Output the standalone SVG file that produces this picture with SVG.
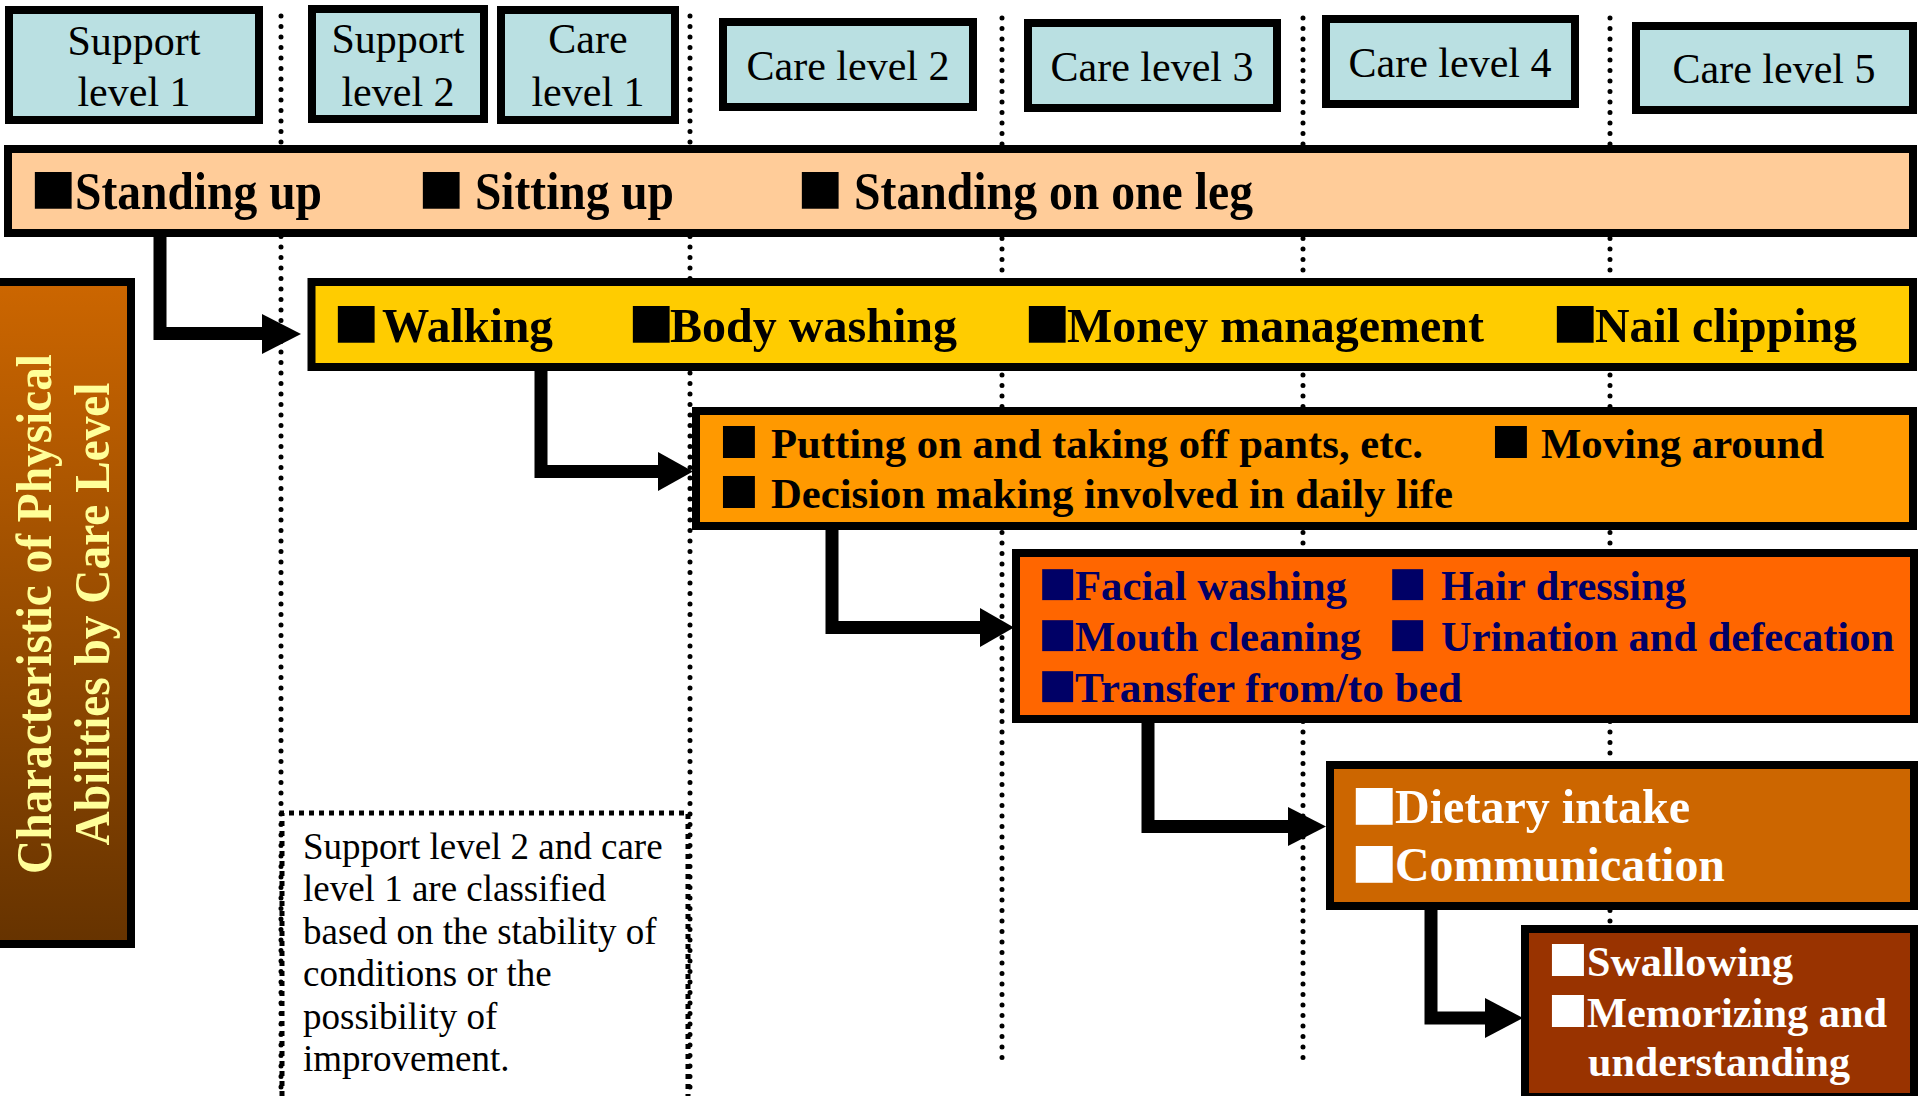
<svg xmlns="http://www.w3.org/2000/svg" width="1919" height="1096" viewBox="0 0 1919 1096">
  <defs>
    <linearGradient id="titleFill" x1="0" y1="0" x2="0" y2="1">
      <stop offset="0" stop-color="#CC6600"/>
      <stop offset="1" stop-color="#663300"/>
    </linearGradient>
    <style>
      .box { stroke: #000; stroke-width: 8; }
      .lvl { fill: #BAE0E2; }
      .lbl { font-family: "Liberation Serif", "Times New Roman", serif; font-size: 42px; text-anchor: middle; fill: #000; }
      .b { font-family: "Liberation Serif", "Times New Roman", serif; font-weight: bold; }
      .sq { letter-spacing: -10px; }
      .guide { stroke: #000; stroke-width: 5; stroke-linecap: round; stroke-dasharray: 0 10.5; fill: none; }
      .noteEdge { stroke: #000; stroke-width: 5; stroke-dasharray: 5 5; fill: none; }
      .wire { stroke: #000; stroke-width: 13; fill: none; stroke-linejoin: miter; }
      .note { font-family: "Liberation Serif", "Times New Roman", serif; font-size: 37px; fill: #000; }
    </style>
  </defs>

  <!-- level headers -->
  <g id="support-level-1">
    <rect class="box lvl" x="9" y="10" width="250" height="110"/>
    <text class="lbl" x="134" y="55">Support</text>
    <text class="lbl" x="134" y="106">level 1</text>
  </g>
  <g id="support-level-2">
    <rect class="box lvl" x="312" y="9" width="172" height="110"/>
    <text class="lbl" x="398" y="53">Support</text>
    <text class="lbl" x="398" y="106">level 2</text>
  </g>
  <g id="care-level-1">
    <rect class="box lvl" x="501" y="10" width="174" height="110"/>
    <text class="lbl" x="588" y="53">Care</text>
    <text class="lbl" x="588" y="106">level 1</text>
  </g>
  <g id="care-level-2">
    <rect class="box lvl" x="723" y="22" width="250" height="85"/>
    <text class="lbl" x="848" y="80" font-size="43">Care level 2</text>
  </g>
  <g id="care-level-3">
    <rect class="box lvl" x="1028" y="23" width="249" height="85"/>
    <text class="lbl" x="1152" y="81" font-size="43">Care level 3</text>
  </g>
  <g id="care-level-4">
    <rect class="box lvl" x="1326" y="19" width="249" height="85"/>
    <text class="lbl" x="1450" y="77" font-size="43">Care level 4</text>
  </g>
  <g id="care-level-5">
    <rect class="box lvl" x="1636" y="26" width="277" height="84"/>
    <text class="lbl" x="1774" y="83" font-size="43">Care level 5</text>
  </g>

  <!-- connectors between the ability bands -->
  <g id="connectors">
    <path class="wire" d="M160,237 V333.5 H263"/>
    <polygon points="262,314 301,334 262,354"/>
    <path class="wire" d="M541,371 V471.5 H659"/>
    <polygon points="658,452 693,471.5 658,491"/>
    <path class="wire" d="M832,530 V627.5 H981"/>
    <polygon points="980,608 1014,627.5 980,647"/>
    <path class="wire" d="M1148,723 V826.5 H1289"/>
    <polygon points="1288,807 1326,826.5 1288,846"/>
    <path class="wire" d="M1431,910 V1018 H1486"/>
    <polygon points="1485,998 1523,1018 1485,1038"/>
  </g>

  <!-- dotted column guides -->
  <g id="guides">
    <line class="guide" x1="281" y1="16" x2="281" y2="1096"/>
    <line class="guide" x1="690" y1="16" x2="690" y2="1096"/>
    <line class="guide" x1="1002" y1="18" x2="1002" y2="1058"/>
    <line class="guide" x1="1303" y1="18" x2="1303" y2="1058"/>
    <line class="guide" x1="1610" y1="18" x2="1610" y2="1058"/>
  </g>

  <!-- title band -->
  <g id="title">
    <rect class="box" x="-10" y="282" width="141" height="662" fill="url(#titleFill)"/>
    <text class="b" font-size="50" fill="#FFFF99" text-anchor="middle" transform="translate(51,614) rotate(-90)" textLength="520" lengthAdjust="spacingAndGlyphs">Characteristic of Physical</text>
    <text class="b" font-size="50" fill="#FFFF99" text-anchor="middle" transform="translate(109,614) rotate(-90)" textLength="463" lengthAdjust="spacingAndGlyphs">Abilities by Care Level</text>
  </g>

  <g id="band-1">
    <rect class="box" x="8" y="149" width="1905" height="84" fill="#FFCC99"/>
    <text class="b" font-size="52"><tspan class="sq" x="30.4" y="212.8" font-size="76">■</tspan><tspan x="75" y="209" textLength="247" lengthAdjust="spacingAndGlyphs">Standing up</tspan></text>
    <text class="b" font-size="52"><tspan class="sq" x="418.4" y="212.8" font-size="76">■ </tspan><tspan x="475" y="209" textLength="199" lengthAdjust="spacingAndGlyphs">Sitting up</tspan></text>
    <text class="b" font-size="52"><tspan class="sq" x="797.4" y="212.8" font-size="76">■ </tspan><tspan x="854" y="209" textLength="399" lengthAdjust="spacingAndGlyphs">Standing on one leg</tspan></text>
  </g>

  <g id="band-2">
    <rect class="box" x="311.5" y="282" width="1601.5" height="85" fill="#FFCC00"/>
    <text class="b" font-size="49"><tspan class="sq" x="333.4" y="346.8" font-size="76">■</tspan><tspan x="382" y="342" textLength="171" lengthAdjust="spacingAndGlyphs">Walking</tspan></text>
    <text class="b" font-size="49"><tspan class="sq" x="628.4" y="346.8" font-size="76">■</tspan><tspan x="670" y="342" textLength="287" lengthAdjust="spacingAndGlyphs">Body washing</tspan></text>
    <text class="b" font-size="49"><tspan class="sq" x="1024.4" y="346.8" font-size="76">■</tspan><tspan x="1067" y="342" textLength="417" lengthAdjust="spacingAndGlyphs">Money management</tspan></text>
    <text class="b" font-size="49"><tspan class="sq" x="1552.4" y="346.8" font-size="76">■</tspan><tspan x="1595" y="342" textLength="262" lengthAdjust="spacingAndGlyphs">Nail clipping</tspan></text>
  </g>

  <g id="band-3">
    <rect class="box" x="696" y="411" width="1217" height="115" fill="#FF9900"/>
    <text class="b" font-size="43"><tspan class="sq" x="719" y="462.3" font-size="66">■ </tspan><tspan x="771" y="458" textLength="652" lengthAdjust="spacingAndGlyphs">Putting on and taking off pants, etc.</tspan><tspan class="sq" x="1491" y="462.3" font-size="66">■ </tspan><tspan x="1541" y="458" textLength="283" lengthAdjust="spacingAndGlyphs">Moving around</tspan><tspan class="sq" x="719" y="512.3" font-size="66">■ </tspan><tspan x="771" y="508" textLength="682" lengthAdjust="spacingAndGlyphs">Decision making involved in daily life</tspan></text>
  </g>

  <g id="band-4" fill="#000066">
    <rect class="box" x="1016" y="553" width="898" height="166" fill="#FF6600"/>
    <text class="b" font-size="42"><tspan class="sq" x="1038.2" y="603.7" font-size="64">■</tspan><tspan x="1075" y="600" textLength="272" lengthAdjust="spacingAndGlyphs">Facial washing</tspan><tspan class="sq" x="1388.2" y="603.7" font-size="64">■ </tspan><tspan x="1441" y="600" textLength="245" lengthAdjust="spacingAndGlyphs">Hair dressing</tspan><tspan class="sq" x="1038.2" y="654.7" font-size="64">■</tspan><tspan x="1075" y="651" textLength="286" lengthAdjust="spacingAndGlyphs">Mouth cleaning</tspan><tspan class="sq" x="1388.2" y="654.7" font-size="64">■ </tspan><tspan x="1441" y="651" textLength="453" lengthAdjust="spacingAndGlyphs">Urination and defecation</tspan><tspan class="sq" x="1038.2" y="705.7" font-size="64">■</tspan><tspan x="1075" y="702" textLength="387" lengthAdjust="spacingAndGlyphs">Transfer from/to bed</tspan></text>
  </g>

  <g id="band-5" fill="#FFFFFF">
    <rect class="box" x="1330" y="765" width="584" height="141" fill="#CC6600"/>
    <text class="b" font-size="48"><tspan class="sq" x="1351.4" y="828.8" font-size="76">■</tspan><tspan x="1395" y="823" textLength="295" lengthAdjust="spacingAndGlyphs">Dietary intake</tspan><tspan class="sq" x="1351.4" y="886.8" font-size="76">■</tspan><tspan x="1395" y="881" textLength="330" lengthAdjust="spacingAndGlyphs">Communication</tspan></text>
  </g>

  <g id="band-6" fill="#FFFFFF">
    <rect class="box" x="1525" y="929" width="389" height="168" fill="#993300"/>
    <text class="b" font-size="42"><tspan class="sq" x="1548" y="980.3" font-size="66">■</tspan><tspan x="1587" y="976" textLength="206" lengthAdjust="spacingAndGlyphs">Swallowing</tspan><tspan class="sq" x="1548" y="1031.3" font-size="66">■</tspan><tspan x="1587" y="1027" textLength="300" lengthAdjust="spacingAndGlyphs">Memorizing and</tspan><tspan x="1588" y="1076" textLength="262" lengthAdjust="spacingAndGlyphs">understanding</tspan></text>
  </g>

  <g id="note">
    <path class="noteEdge" d="M282,1096 V813 H688 V1096"/>
    <text class="note" x="303" y="859">Support level 2 and care</text>
    <text class="note" x="303" y="901">level 1 are classified</text>
    <text class="note" x="303" y="944">based on the stability of</text>
    <text class="note" x="303" y="986">conditions or the</text>
    <text class="note" x="303" y="1029">possibility of</text>
    <text class="note" x="303" y="1071">improvement.</text>
  </g>
</svg>
